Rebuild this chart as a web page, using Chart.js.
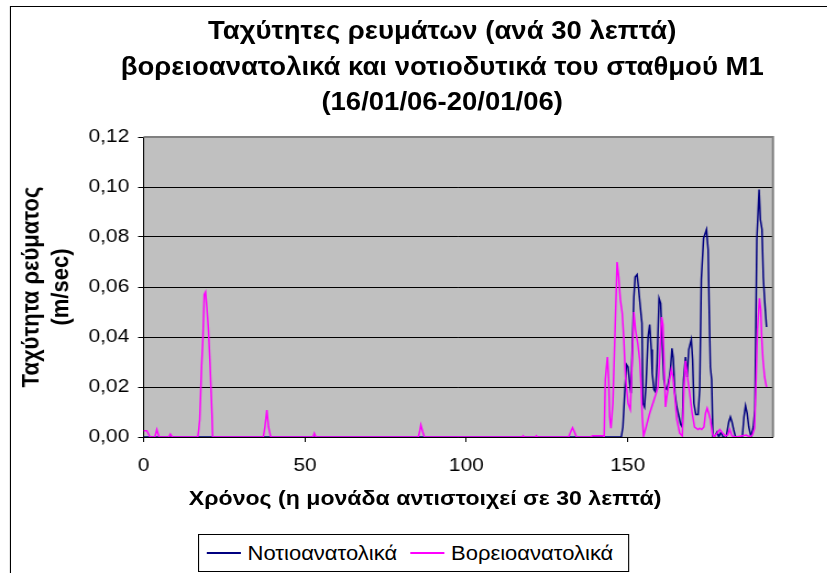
<!DOCTYPE html>
<html>
<head>
<meta charset="utf-8">
<script src="https://cdn.jsdelivr.net/npm/chart.js@4.4.0/dist/chart.umd.min.js"></script>
<style>
  html, body { margin: 0; padding: 0; background: #fff; overflow: hidden; }
  #sheet {
    position: absolute; left: 0; top: 0; width: 752px; height: 573px;
    transform: scaleX(1.1); transform-origin: 0 0;   /* widen the whole figure a little */
    font-family: "Liberation Sans", Arial, sans-serif; color: #000;
  }
  #frame { position: absolute; left: 9px; top: 6px; width: 820px; height: 640px; border: 1px solid #000; }
  #chart { position: absolute; left: 0; top: 0; }
  #title {
    position: absolute; left: 0; top: 13px; width: 804px;
    text-align: center; font-weight: bold; font-size: 25px; line-height: 35.5px;
  }
  #xtitle {
    position: absolute; left: 0; top: 484px; width: 773px;
    text-align: center; font-weight: bold; font-size: 21px; line-height: 28px;
  }
  #legend {
    position: absolute; left: 180px; top: 534px; width: 390px; height: 36px;
    border: 1px solid #000; background: #fff;
    display: flex; align-items: center; font-size: 20px; line-height: 36px; white-space: nowrap;
  }
  #legend .item { display: flex; align-items: center; margin-left: 7px; }
  #legend .item + .item { margin-left: 12px; }
  #legend .swatch { display: inline-block; width: 31px; height: 2px; margin-right: 6px; }
</style>
</head>
<body>
<div id="sheet">
  <div id="frame"></div>
  <canvas id="chart" width="752" height="573"></canvas>
  <div id="title">Ταχύτητες ρευμάτων (ανά 30 λεπτά)<br>βορειοανατολικά και νοτιοδυτικά του σταθμού Μ1<br>(16/01/06-20/01/06)</div>
  <div id="xtitle">Χρόνος (η μονάδα αντιστοιχεί σε 30 λεπτά)</div>
  <div id="legend"></div>
</div>
<script>
// time in 30-minute units, speed in m/sec
const seTime = [0, 148, 148.5, 149, 149.6, 150.1, 150.6, 151, 151.4, 151.9, 152.3, 152.9, 153.4, 153.9, 154.4, 154.7,
  155.2, 155.7, 156.3, 156.8, 157.3, 157.6, 158.1, 158.6, 159.1, 159.7, 160.2, 160.7, 161.2, 161.7, 162.2, 162.8,
  163.3, 163.7, 164.1, 164.6, 165.2, 165.9, 166.4, 166.9, 167.3, 167.9, 168.4, 168.9, 169.7, 170.1, 170.5, 171.1,
  171.8, 172.3, 172.8, 173.5, 174.4, 174.9, 175.2, 175.6, 176, 176.4, 177, 177.7, 178.2, 178.9, 179.5, 180.5,
  181.3, 181.8, 182.3, 182.8, 183.4, 185.5, 186, 186.5, 187, 187.5, 188.2, 188.9, 189.4, 190, 190.7, 191.1,
  191.6, 192, 192.4, 193];
const seSpeed = [0, 0, 0.004, 0.016, 0.029, 0.028, 0.0215, 0.0175, 0.035, 0.056, 0.064, 0.065, 0.059, 0.052, 0.0455, 0.0135,
  0.012, 0.0215, 0.040, 0.045, 0.035, 0.0255, 0.019, 0.018, 0.0295, 0.0555, 0.0535, 0.0375, 0.023, 0.0195, 0.019, 0.023,
  0.028, 0.0355, 0.0315, 0.0175, 0.012, 0.008, 0.005, 0.004, 0.023, 0.032, 0.024, 0.035, 0.039, 0.031, 0.0135, 0.009,
  0.009, 0.019, 0.063, 0.0795, 0.083, 0.075, 0.0535, 0.028, 0.023, 0, 0.0004, 0.002, 0, 0.002, 0, 0,
  0.006, 0.008, 0.006, 0.003, 0, 0, 0.008, 0.0125, 0.0095, 0.004, 0, 0.004, 0.011, 0.079, 0.099, 0.087,
  0.083, 0.064, 0.055, 0.044];

const neTime = [0, 1, 2, 3.5, 4.1, 4.8, 7.8, 8.3, 8.9, 16.8, 17.1, 17.4, 18, 18.4, 18.8, 19.2,
  19.6, 20.1, 20.6, 21.2, 21.4, 37.1, 37.6, 38.2, 38.7, 39.4, 52.5, 52.9, 53.4, 85.1, 85.5, 85.9,
  86.5, 87, 117.3, 117.6, 117.9, 121.4, 121.7, 122, 131.7, 132.3, 132.9, 133.5, 134.1, 138.7, 139, 142.3,
  142.7, 143.05, 143.7, 144.1, 144.4, 144.8, 145.4, 145.9, 146.7, 147.2, 147.7, 148.3, 148.8, 149.3, 150.1, 150.8,
  151.3, 151.9, 152.4, 153.1, 153.7, 154.2, 154.5, 154.9, 155.7, 156.8, 157.8, 158.8, 159.4, 159.9, 160.5, 160.9,
  161.3, 161.7, 162.1, 162.8, 163.5, 164, 164.6, 165.2, 166.1, 166.9, 167.4, 167.9, 168.6, 169.2, 169.9, 170.7,
  171.8, 172.3, 172.9, 173.6, 174.1, 174.6, 175.1, 175.6, 176.2, 176.7, 177.7, 178.5, 179.3, 180.3, 181, 181.6,
  182.3, 183.6, 185.2, 186.7, 187.8, 188.6, 189.3, 189.8, 190.2, 190.8, 191.2, 191.5, 191.9, 192.4, 193];
const neSpeed = [0.0025, 0.0025, 0, 0, 0.003, 0, 0, 0.0012, 0, 0, 0.003, 0.007, 0.029, 0.040, 0.057, 0.058,
  0.052, 0.043, 0.029, 0.009, 0, 0, 0.004, 0.0108, 0.004, 0, 0, 0.0015, 0, 0, 0.002, 0.0048,
  0.002, 0, 0, 0.0005, 0, 0, 0.0005, 0, 0, 0.002, 0.0037, 0.002, 0, 0, 0.0005, 0.0005,
  0, 0.023, 0.032, 0.023, 0.008, 0.0035, 0.0135, 0.035, 0.070, 0.064, 0.055, 0.0495, 0.039, 0.024, 0.0135, 0.011,
  0.028, 0.050, 0.043, 0.0375, 0.031, 0.019, 0.008, 0.0004, 0.004, 0.0095, 0.0135, 0.0175, 0.020, 0.032, 0.048, 0.045,
  0.028, 0.012, 0.016, 0.0215, 0.027, 0.024, 0.016, 0.007, 0.0015, 0.0004, 0.019, 0.0305, 0.023, 0.0175, 0.010, 0.004,
  0.003, 0.0035, 0.003, 0.004, 0.0095, 0.0115, 0.0095, 0.007, 0.0015, 0, 0.0015, 0.003, 0.0017, 0.0004, 0.0008, 0.003,
  0.0004, 0, 0.0004, 0.0008, 0, 0.0008, 0.0035, 0.024, 0.043, 0.0555, 0.051, 0.040, 0.031, 0.024, 0.020];

const seriesNames = ['Νοτιοανατολικά', 'Βορειοανατολικά'];
const xTicks = [0, 50, 100, 150];
const yTicks = [0, 0.02, 0.04, 0.06, 0.08, 0.10, 0.12];

const FONT = '"Liberation Sans", Arial, sans-serif';

const toPoints = (t, v) => t.map((x, i) => ({ x: x, y: v[i] }));

// grey plot area with a lighter frame on top and right
const plotBackground = {
  id: 'plotBackground',
  beforeDraw(chart) {
    const { ctx, chartArea: a } = chart;
    ctx.save();
    ctx.fillStyle = '#c0c0c0';
    ctx.fillRect(a.left, a.top, a.width, a.height);
    ctx.restore();
  },
  beforeDatasetsDraw(chart) {
    const { ctx, chartArea: a } = chart;
    ctx.save();
    ctx.strokeStyle = '#808080';
    ctx.lineWidth = 2;
    ctx.beginPath();
    ctx.moveTo(a.left, a.top);
    ctx.lineTo(a.right, a.top);
    ctx.lineTo(a.right, a.bottom);
    ctx.stroke();
    ctx.restore();
  }
};

const chart = new Chart(document.getElementById('chart'), {
  type: 'line',
  data: {
    datasets: [
      {
        label: seriesNames[0],
        data: toPoints(seTime, seSpeed),
        borderColor: '#000080',
        borderWidth: 1.5,
        order: 1
      },
      {
        label: seriesNames[1],
        data: toPoints(neTime, neSpeed),
        borderColor: '#ff00ff',
        borderWidth: 1.5,
        order: 0
      }
    ]
  },
  options: {
    responsive: false,
    animation: false,
    devicePixelRatio: 1,
    events: [],
    elements: { point: { radius: 0 }, line: { tension: 0, fill: false } },
    layout: { padding: { left: 0, right: 49.3, top: 137, bottom: 91 } },
    plugins: { legend: { display: false }, title: { display: false }, tooltip: { enabled: false } },
    scales: {
      x: {
        type: 'linear',
        min: 0,
        max: 195,
        afterBuildTicks: s => { s.ticks = xTicks.map(v => ({ value: v })); },
        afterFit: s => { s.height = 45; },
        grid: { drawOnChartArea: false, drawTicks: true, tickLength: 5, color: '#000' },
        border: { color: '#000', width: 1 },
        ticks: { color: '#000', padding: 12, font: { family: FONT, size: 19 } }
      },
      y: {
        min: 0,
        max: 0.12,
        afterBuildTicks: s => { s.ticks = yTicks.map(v => ({ value: v })); },
        afterFit: s => { s.width = 130.5; },
        grid: { color: '#000', lineWidth: 1, tickLength: 5 },
        border: { color: '#000', width: 1 },
        ticks: {
          color: '#000',
          padding: 8,
          font: { family: FONT, size: 19 },
          callback: v => v.toFixed(2).replace('.', ',')
        },
        title: {
          display: true,
          text: ['Ταχύτητα ρεύματος', '(m/sec)'],
          color: '#000',
          font: { family: FONT, size: 22, weight: 'bold', lineHeight: 1.22 },
          padding: { top: 16, bottom: 0 }
        }
      }
    }
  },
  plugins: [plotBackground]
});

// legend box under the axis title
const legend = document.getElementById('legend');
chart.data.datasets.forEach(ds => {
  const item = document.createElement('span');
  item.className = 'item';
  const swatch = document.createElement('span');
  swatch.className = 'swatch';
  swatch.style.background = ds.borderColor;
  item.appendChild(swatch);
  item.appendChild(document.createTextNode(ds.label));
  legend.appendChild(item);
});
</script>
</body>
</html>
